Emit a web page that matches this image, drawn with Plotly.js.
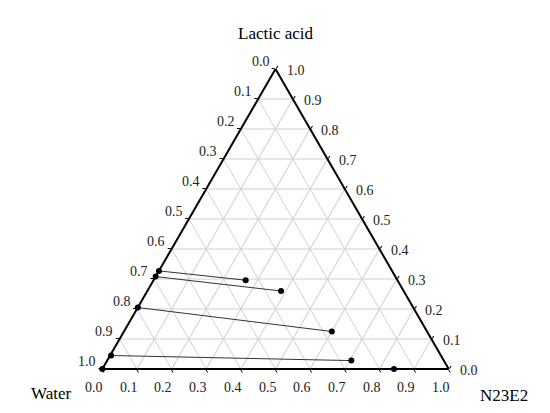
<!DOCTYPE html>
<html>
<head>
<meta charset="utf-8">
<script src="https://cdn.plot.ly/plotly-3.0.1.min.js"></script>
<style>
  html, body { margin: 0; padding: 0; background: #fff; }
  #chart { width: 550px; height: 413px; }
</style>
</head>
<body>
<div id="chart"></div>
<script>
// tie lines: water-rich phase (on the left edge) -> N23E2-rich phase
var aqLactic = [0.327, 0.308, 0.205, 0.045, 0.0];
var aqWater  = [0.673, 0.692, 0.795, 0.952, 1.0];
var aqN23E2  = [0.0, 0.0, 0.0, 0.003, 0.0];

var orgLactic = [0.296, 0.260, 0.125, 0.028, 0.0];
var orgWater  = [0.438, 0.354, 0.275, 0.267, 0.158];
var orgN23E2  = [0.266, 0.386, 0.600, 0.705, 0.842];

var tickVals = [0, 0.1, 0.2, 0.3, 0.4, 0.5, 0.6, 0.7, 0.8, 0.9, 1.0];
var tickText = ['0.0', '0.1', '0.2', '0.3', '0.4', '0.5', '0.6', '0.7', '0.8', '0.9', '1.0'];

var font = 'Liberation Serif, Times New Roman, serif';

var data = [];
for (var i = 0; i < aqLactic.length; i++) {
    data.push({
        type: 'scatterternary',
        mode: 'lines+markers',
        a: [aqLactic[i], orgLactic[i]],
        b: [aqWater[i], orgWater[i]],
        c: [aqN23E2[i], orgN23E2[i]],
        line: { color: '#333', width: 1 },
        marker: { color: '#000', size: 6 },
        cliponaxis: false,
        hoverinfo: 'none',
        showlegend: false
    });
}

function axis() {
    return {
        title: { text: '' },
        min: 0,
        tickmode: 'array',
        tickvals: tickVals,
        showticklabels: false,
        ticks: 'outside',
        ticklen: 3,
        tickcolor: '#000',
        showline: true,
        linecolor: '#000',
        linewidth: 2,
        showgrid: true,
        gridcolor: '#d0d0d0',
        gridwidth: 1
    };
}

// the labels run counter-clockwise (each edge reads the vertex it heads to),
// so they are written as annotations on the triangle (paper = triangle box)
var tickFont = { family: font, size: 14, color: '#222' };
var titleFont = { family: font, size: 17, color: '#000' };
var annotations = [];
tickVals.forEach(function (v, k) {
    // left edge: Water
    annotations.push({ xref: 'paper', yref: 'paper', x: (1 - v) / 2, y: 1 - v,
        text: tickText[k], showarrow: false, xanchor: 'right', yanchor: 'middle',
        xshift: -5, yshift: 8, borderpad: 0, font: tickFont });
    // bottom edge: N23E2
    annotations.push({ xref: 'paper', yref: 'paper', x: v, y: 0,
        text: tickText[k], showarrow: false, xanchor: 'center', yanchor: 'middle',
        xshift: -8, yshift: -18, borderpad: 0, font: tickFont });
    // right edge: Lactic acid
    annotations.push({ xref: 'paper', yref: 'paper', x: 1 - v / 2, y: v,
        text: tickText[k], showarrow: false, xanchor: 'left', yanchor: 'middle',
        xshift: 10, yshift: -1, borderpad: 0, font: tickFont });
});
annotations.push({ xref: 'paper', yref: 'paper', x: 0.5, y: 1, text: 'Lactic acid',
    showarrow: false, xanchor: 'center', yanchor: 'middle', yshift: 36, font: titleFont });
annotations.push({ xref: 'paper', yref: 'paper', x: 0, y: 0, text: 'Water',
    showarrow: false, xanchor: 'center', yanchor: 'middle', xshift: -51, yshift: -24, font: titleFont });
annotations.push({ xref: 'paper', yref: 'paper', x: 1, y: 0, text: 'N23E2',
    showarrow: false, xanchor: 'center', yanchor: 'middle', xshift: 55, yshift: -26, font: titleFont });

var layout = {
    width: 550,
    height: 413,
    margin: { l: 102, r: 101, t: 69, b: 44 },
    paper_bgcolor: '#fff',
    showlegend: false,
    ternary: {
        sum: 1,
        bgcolor: '#fff',
        aaxis: axis(),
        baxis: axis(),
        caxis: axis()
    },
    annotations: annotations
};

Plotly.newPlot('chart', data, layout, { displayModeBar: false, staticPlot: true });
</script>
</body>
</html>
